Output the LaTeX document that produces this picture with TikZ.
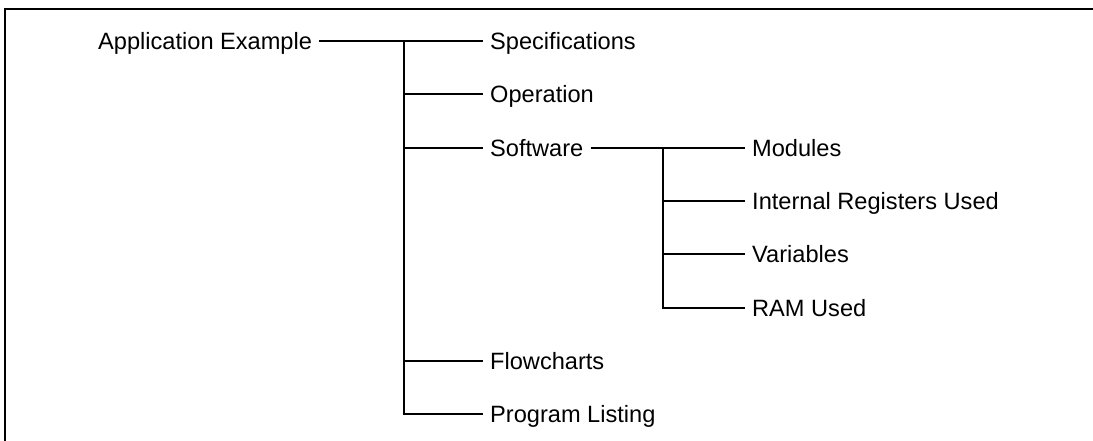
\documentclass[tikz,border=0pt]{standalone}
\usepackage{fontspec}
\setmainfont{Liberation Sans}
\begin{document}
\begin{tikzpicture}[x=1pt,y=-1pt,
  lbl/.style={anchor=west,inner xsep=7pt,inner ysep=0pt,
    font=\fontsize{23.6}{26}\selectfont,text height=17pt,text depth=0pt},
  link/.style={draw=black,line width=2.2pt,line join=miter}]
  \useasboundingbox (0,0) rectangle (1093,441);
  % open frame: top and left rules only
  \draw[line width=2.2pt] (1093,9) -- (5,9) -- (5,441);

  % first level
  \node[lbl] (app)  at (91,41)  {Application Example};
  \node[lbl] (spec) at (483,41)  {Specifications};
  \node[lbl] (oper) at (483,94)  {Operation};
  \node[lbl] (soft) at (483,148) {Software};
  \node[lbl] (flow) at (483,361) {Flowcharts};
  \node[lbl] (prog) at (483,414) {Program Listing};

  % second level under Software
  \node[lbl] (mod)  at (745,148) {Modules};
  \node[lbl] (reg)  at (745,201) {Internal Registers Used};
  \node[lbl] (var)  at (745,254) {Variables};
  \node[lbl] (ram)  at (745,308) {RAM Used};

  % branch points
  \coordinate (t1) at (404,41);
  \coordinate (t2) at (663,148);

  \draw[link] (app.east) -- (spec.west);
  \draw[link] (t1) |- (oper.west);
  \draw[link] (t1) |- (soft.west);
  \draw[link] (t1) |- (flow.west);
  \draw[link] (t1) |- (prog.west);

  \draw[link] (soft.east) -- (mod.west);
  \draw[link] (t2) |- (reg.west);
  \draw[link] (t2) |- (var.west);
  \draw[link] (t2) |- (ram.west);
\end{tikzpicture}
\end{document}
